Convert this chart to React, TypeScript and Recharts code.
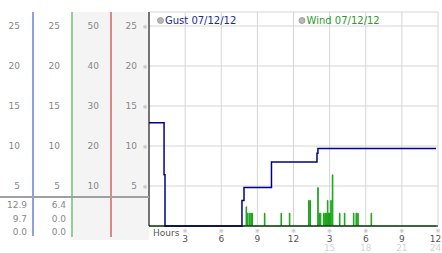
import React from "react";
import { ComposedChart, Line, XAxis, YAxis, CartesianGrid } from "recharts";

// gust readings: hour of day, mph
const gustHours = [0, 1.25, 1.33, 7.72, 7.89, 10.17, 13.95, 14.03, 23.84];
const gustMph = [12.9, 6.4, 0, 3.2, 4.8, 8.0, 9.1, 9.7, 9.7];

// wind readings: hour of day, mph (each gust of wind drops back to 0)
const windHours = [
  0, 8.06, 8.11, 8.16, 8.21, 8.31, 8.36, 8.45, 8.5, 8.55, 8.6, 9.58, 9.63,
  10.96, 11.01, 11.65, 11.7, 13.25, 13.3, 13.36, 13.41, 14.01, 14.06, 14.12,
  14.17, 14.22, 14.27, 14.48, 14.53, 14.6, 14.65, 14.7, 14.75, 14.81, 14.86,
  14.9, 14.95, 14.99, 15.04, 15.09, 15.14, 15.22, 15.27, 15.81, 15.86, 16.22,
  16.27, 16.97, 17.02, 17.19, 17.24, 17.33, 17.38, 18.44, 18.49, 23.84,
];
const windMph = [
  0, 2.4, 0, 1.6, 0, 1.6, 0, 1.6, 0, 1.6, 0, 1.6, 0,
  1.6, 0, 1.6, 0, 3.2, 0, 3.2, 0, 4.8, 0, 1.6,
  0, 1.6, 0, 1.6, 0, 1.6, 0, 1.6, 0, 3.2, 0,
  1.6, 0, 1.6, 0, 3.2, 0, 6.4, 0, 1.6, 0, 1.6,
  0, 1.6, 0, 1.6, 0, 1.6, 0, 1.6, 0, 0,
];

const hourTicks = [3, 6, 9, 12, 15, 18, 21, 24];
const hourLabels = ["3", "6", "9", "12", "3", "6", "9", "12"];
const hourLabels2 = ["", "", "", "", "15", "18", "21", "24"];

const mphTicks = [5, 10, 15, 20, 25];
const col3Ticks = [10, 20, 30, 40, 50];

const seriesNames = ["Gust 07/12/12", "Wind 07/12/12"];
const gustStats = ["12.9", "9.7", "0.0"];
const windStats = ["6.4", "0.0", "0.0"];

const gustData = gustHours.map((h, i) => ({ h, v: gustMph[i] }));
const windData = windHours.map((h, i) => ({ h, v: windMph[i] }));

const FONT = "DejaVu Sans, sans-serif";
const MARK = "\u203B";
const BLUE = "#1c44c0";
const GREEN = "#20a020";
const RED = "#c01c1c";

const LeftTick = (props: any) => {
  const { x, y, payload, glyph } = props;
  return (
    <g>
      <text x={x} y={y + 3.3} textAnchor="end" fontSize={9} fill="#888" fontFamily={FONT}>
        {payload.value}
      </text>
      {glyph && (
        <text x={x + 8} y={y + 2.5} textAnchor="middle" fontSize={6} fill="#aaa" fontFamily={FONT}>
          {MARK}
        </text>
      )}
    </g>
  );
};

const HourTick = (props: any) => {
  const { x, y, payload, index } = props;
  // last labels sit at the right edge, nudge them in a little
  const lx = index === hourTicks.length - 1 ? x - 2.5 : x;
  return (
    <g>
      <text x={x} y={y + 7} textAnchor="middle" fontSize={6} fill="#aaa" fontFamily={FONT}>
        {MARK}
      </text>
      <text x={lx} y={y + 15.5} textAnchor="middle" fontSize={9} fill="#555" fontFamily={FONT}>
        {hourLabels[index] ?? payload.value}
      </text>
      <text x={lx} y={y + 25} textAnchor="middle" fontSize={9} fill="#d4d4d4" fontFamily={FONT}>
        {hourLabels2[index]}
      </text>
    </g>
  );
};

const hoursLabel = (props: any) => {
  const vb = props.viewBox || { x: 149, y: 226 };
  return (
    <text x={vb.x + 4} y={vb.y + 9.5} fontSize={9} fill="#555" fontFamily={FONT}>
      Hours
    </text>
  );
};

export default function App() {
  return (
    <div style={{ position: "absolute", left: 0, top: 0, width: 442, height: 253, fontFamily: FONT }}>
      <svg width={442} height={253} style={{ position: "absolute", left: 0, top: 0 }}>
        <rect x={73} y={12} width={76} height={228} fill="#f4f4f4" />
      </svg>
      <div style={{ position: "absolute", left: 0, top: 0 }}>
        <ComposedChart width={442} height={253} margin={{ top: 12, right: 4, bottom: 0, left: 0 }}>
          <CartesianGrid stroke="#d6d6d6" />
          <XAxis
            dataKey="h"
            type="number"
            domain={[0, 24]}
            ticks={hourTicks}
            height={27}
            tickSize={0}
            tickMargin={0}
            tickLine={false}
            axisLine={{ stroke: "#000" }}
            tick={<HourTick />}
            interval={0}
            label={hoursLabel}
          />
          <YAxis
            type="number"
            domain={[0, 26.75]}
            ticks={mphTicks}
            width={38}
            tickSize={0}
            tickMargin={12}
            tickLine={false}
            axisLine={{ stroke: "#000" }}
            tick={(p: any) => <LeftTick {...p} glyph />}
            interval={0}
          />
          <YAxis
            yAxisId="a_col3"
            type="number"
            domain={[0, 53.5]}
            allowDataOverflow
            ticks={col3Ticks}
            width={39}
            tickSize={0}
            tickMargin={12}
            tickLine={false}
            axisLine={{ stroke: RED }}
            tick={(p: any) => <LeftTick {...p} />}
            interval={0}
          />
          <YAxis
            yAxisId="b_col2"
            type="number"
            domain={[0, 26.75]}
            allowDataOverflow
            ticks={mphTicks}
            width={39}
            tickSize={0}
            tickMargin={12}
            tickLine={false}
            axisLine={{ stroke: GREEN }}
            tick={(p: any) => <LeftTick {...p} />}
            interval={0}
          />
          <YAxis
            yAxisId="c_col1"
            type="number"
            domain={[0, 26.75]}
            allowDataOverflow
            ticks={mphTicks}
            width={33}
            tickSize={0}
            tickMargin={13}
            tickLine={false}
            axisLine={{ stroke: BLUE }}
            tick={(p: any) => <LeftTick {...p} />}
            interval={0}
          />
          <Line
            data={windData}
            dataKey="v"
            name={seriesNames[1]}
            type="stepAfter"
            stroke="#14a014"
            strokeWidth={1}
            dot={false}
            isAnimationActive={false}
          />
          <Line
            data={gustData}
            dataKey="v"
            name={seriesNames[0]}
            type="stepAfter"
            stroke="#000090"
            strokeWidth={1.5}
            dot={false}
            isAnimationActive={false}
          />
        </ComposedChart>
      </div>
      <svg width={442} height={253} style={{ position: "absolute", left: 0, top: 0, pointerEvents: "none" }}>
        <line x1={33} x2={33} y1={226} y2={236} stroke={BLUE} />
        <line x1={72} x2={72} y1={226} y2={237} stroke={GREEN} />
        <line x1={111} x2={111} y1={226} y2={237} stroke={RED} />
        <line x1={0} x2={149} y1={197} y2={197} stroke="#a0a0a0" strokeWidth={2} />
        {gustStats.map((s, i) => (
          <text key={"g" + i} x={27} y={208.3 + i * 13.5} textAnchor="end" fontSize={9} fill="#888" fontFamily={FONT}>
            {s}
          </text>
        ))}
        {windStats.map((s, i) => (
          <text key={"w" + i} x={66} y={208.3 + i * 13.5} textAnchor="end" fontSize={9} fill="#888" fontFamily={FONT}>
            {s}
          </text>
        ))}
        <circle cx={160.5} cy={20.5} r={3} fill="#b8b8b8" stroke="#909090" strokeWidth={0.8} />
        <text x={165} y={24} fontSize={10} fill="#1a2a96" fontFamily={FONT}>
          {seriesNames[0]}
        </text>
        <circle cx={302} cy={20.5} r={3} fill="#b8b8b8" stroke="#909090" strokeWidth={0.8} />
        <text x={306.5} y={24} fontSize={10} fill="#2a9a2a" fontFamily={FONT}>
          {seriesNames[1]}
        </text>
      </svg>
    </div>
  );
}
